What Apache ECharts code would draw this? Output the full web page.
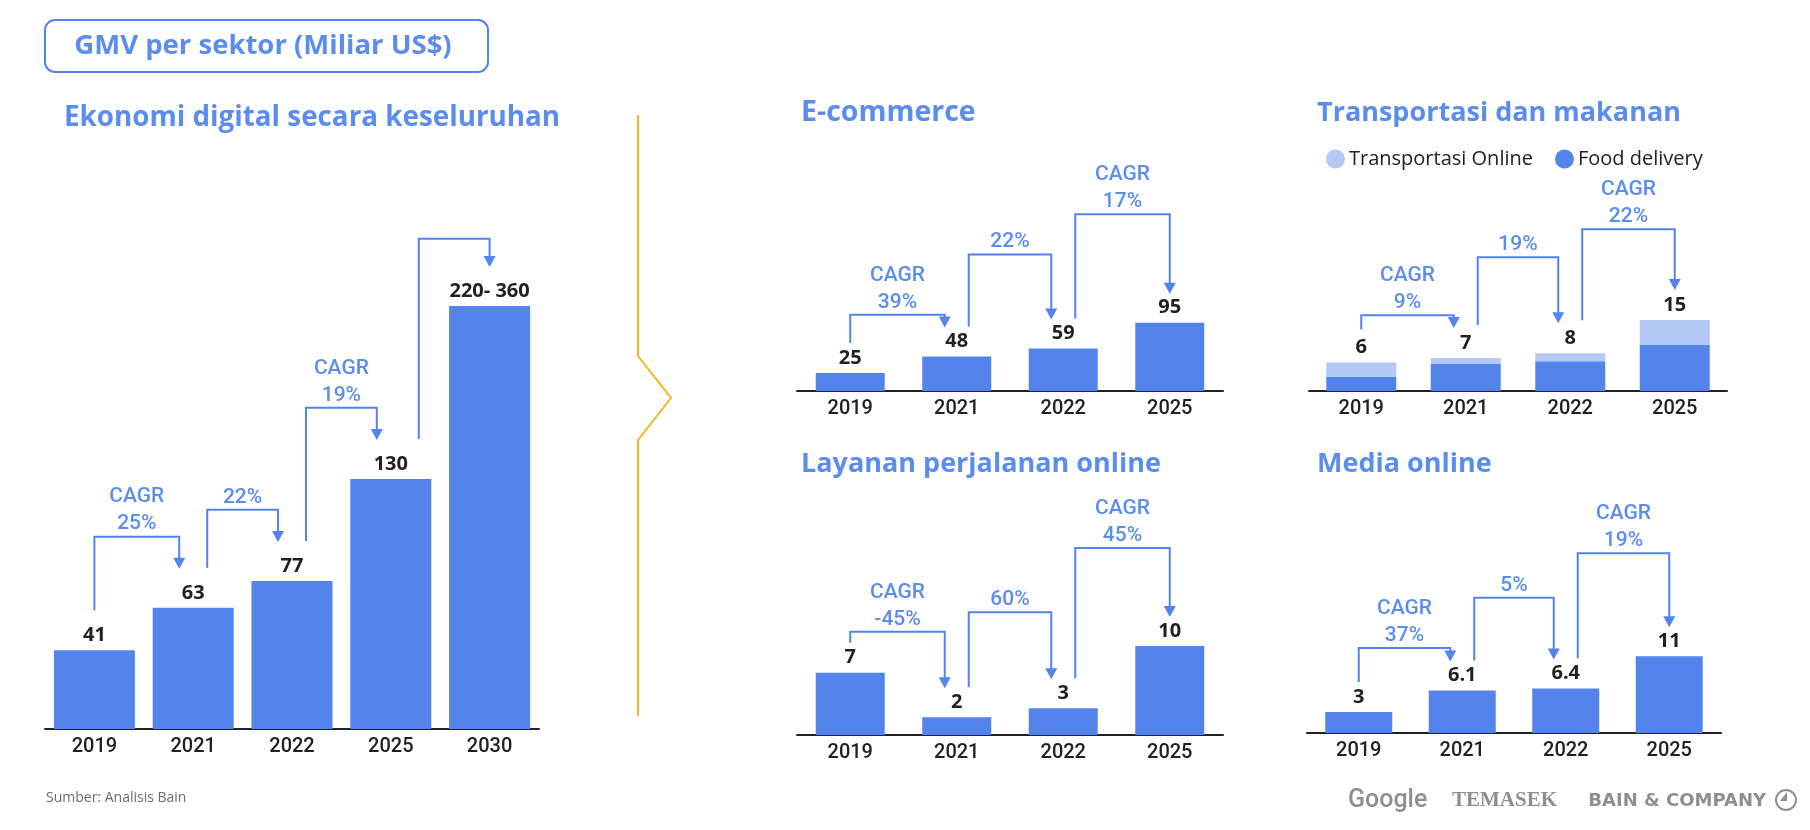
<!DOCTYPE html>
<html>
<head>
<meta charset="utf-8">
<script src="https://cdn.jsdelivr.net/npm/echarts@6/dist/echarts.min.js"></script>
<style>
html,body{margin:0;padding:0;background:#fff;}
#c{width:1810px;height:830px;}
</style>
</head>
<body>
<div id="c"></div>
<script>
// ---------- data ----------
const years5 = ['2019', '2021', '2022', '2025', '2030'];
const years4 = ['2019', '2021', '2022', '2025'];

const overallValues = [41, 63, 77, 130, 220];
const overallLabels = ['41', '63', '77', '130', '220- 360'];
const overallCagr = [[0, 1, 'CAGR\n25%', 100], [1, 2, '22%', 114], [2, 3, 'CAGR\n19%', 167], [3, 4, '', 255]];

const ecomValues = [25, 48, 59, 95];
const ecomCagr = [[0, 1, 'CAGR\n39%', 106], [1, 2, '22%', 190], [2, 3, 'CAGR\n17%', 246]];

const foodValues = [3.0, 5.7, 6.3, 9.7];
const rideValues = [3.0, 1.3, 1.7, 5.3];
const transportTotals = [6, 7, 8, 15];
const transportCagr = [[0, 1, 'CAGR\n9%', 16], [1, 2, '19%', 28.3], [2, 3, 'CAGR\n22%', 34.2]];

const travelValues = [7, 2, 3, 10];
const travelCagr = [[0, 1, 'CAGR\n-45%', 11.6], [1, 2, '60%', 13.8], [2, 3, 'CAGR\n45%', 21]];

const mediaValues = [3, 6.1, 6.4, 11];
const mediaCagr = [[0, 1, 'CAGR\n37%', 12.2], [1, 2, '5%', 19.4], [2, 3, 'CAGR\n19%', 25.8]];

// ---------- style ----------
const BLUE = '#5384EB';
const LIGHT = '#B3C8F4';
const TXT_BLUE = '#5B8DEF';
const DARK = '#202124';
const FONT = '"Open Sans", Roboto, "Noto Sans", Arial, sans-serif';
const FONT_MED = 'Roboto, "Open Sans", Arial, sans-serif';

const chart = echarts.init(document.getElementById('c'), null, {renderer: 'canvas'});

// panel layout: left, width, axis y, y max, px per unit, bar width, bracket gaps
const panels = [
  {left: 45, width: 494, axisY: 729, max: 300, scale: 1.923, barW: 81, startGap: 40, tipGap: 39, off: 14, startOff: {3: 28}},
  {left: 797, width: 426, axisY: 391, max: 350, scale: 0.719, barW: 69, startGap: 30, tipGap: 29, off: 12, startOff: {}},
  {left: 1309, width: 418, axisY: 391, max: 50, scale: 4.73, barW: 70, startGap: 33, tipGap: 30, off: 12, startOff: {}},
  {left: 797, width: 426, axisY: 735, max: 30, scale: 8.9, barW: 69, startGap: 30, tipGap: 29, off: 12, startOff: {}},
  {left: 1307, width: 414, axisY: 733, max: 40, scale: 6.97, barW: 67, startGap: 30, tipGap: 29, off: 12, startOff: {}}
];

const grids = panels.map(p => ({
  left: p.left, width: p.width, top: p.axisY - p.max * p.scale, height: p.max * p.scale
}));

const xAxes = panels.map((p, i) => ({
  type: 'category', gridIndex: i, data: i === 0 ? years5 : years4,
  axisLine: {show: true, lineStyle: {color: DARK, width: 2}},
  axisTick: {show: false},
  axisLabel: {color: DARK, fontSize: 20, fontWeight: 500, fontFamily: FONT_MED, margin: 8}
}));

const yAxes = panels.map((p, i) => ({
  type: 'value', gridIndex: i, min: 0, max: p.max, show: false, splitLine: {show: false}
}));

function barLabel(formatter) {
  return {
    show: true, position: 'top', distance: 5, color: DARK, fontSize: 20,
    fontWeight: 'bold', fontFamily: FONT, formatter: formatter
  };
}

function bracketSeries(idx, cagr, totals) {
  const p = panels[idx];
  const n = totals.length;
  return {
    type: 'custom', xAxisIndex: idx, yAxisIndex: idx, silent: true, z: 5,
    encode: {x: [0, 1], y: [2, 3, 4]},
    data: cagr.map(c => [c[0], c[1], totals[c[0]], totals[c[1]], c[3]]),
    renderItem: function (params, api) {
      const a = api.value(0), b = api.value(1);
      const pA = api.coord([a, api.value(2)]);
      const pB = api.coord([b, api.value(3)]);
      const yL = api.coord([a, api.value(4)])[1];
      const so = p.startOff[params.dataIndex];
      const xA = pA[0] + (so !== undefined ? so : (a === 0 ? 0 : p.off));
      const xB = pB[0] - (b === n - 1 ? 0 : p.off);
      const yS = pA[1] - p.startGap;
      const yT = pB[1] - p.tipGap;
      const ah = 11, aw = 6;
      const text = cagr[params.dataIndex][2];
      const children = [
        {type: 'polyline', shape: {points: [[xA, yS], [xA, yL], [xB, yL], [xB, yT - ah + 1]]},
         style: {stroke: BLUE, lineWidth: 2, fill: null}},
        {type: 'polygon', shape: {points: [[xB - aw, yT - ah], [xB + aw, yT - ah], [xB, yT]]},
         style: {fill: BLUE}}
      ];
      if (text) {
        children.push({type: 'text', style: {
          text: text, x: (xA + xB) / 2, y: yL + 1, align: 'center', verticalAlign: 'bottom',
          fill: TXT_BLUE, fontSize: 21, fontWeight: 500, fontFamily: FONT_MED, lineHeight: 27
        }});
      }
      return {type: 'group', children: children};
    }
  };
}

const series = [
  {type: 'bar', xAxisIndex: 0, yAxisIndex: 0, data: overallValues, barWidth: panels[0].barW,
   itemStyle: {color: BLUE}, label: barLabel(pr => overallLabels[pr.dataIndex])},
  bracketSeries(0, overallCagr, overallValues),

  {type: 'bar', xAxisIndex: 1, yAxisIndex: 1, data: ecomValues, barWidth: panels[1].barW,
   itemStyle: {color: BLUE}, label: barLabel('{c}')},
  bracketSeries(1, ecomCagr, ecomValues),

  {type: 'bar', name: 'Food delivery', stack: 'tf', xAxisIndex: 2, yAxisIndex: 2, data: foodValues,
   barWidth: panels[2].barW, itemStyle: {color: BLUE}},
  {type: 'bar', name: 'Transportasi Online', stack: 'tf', xAxisIndex: 2, yAxisIndex: 2, data: rideValues,
   barWidth: panels[2].barW, itemStyle: {color: LIGHT},
   label: barLabel(pr => String(transportTotals[pr.dataIndex]))},
  bracketSeries(2, transportCagr, transportTotals),

  {type: 'bar', xAxisIndex: 3, yAxisIndex: 3, data: travelValues, barWidth: panels[3].barW,
   itemStyle: {color: BLUE}, label: barLabel('{c}')},
  bracketSeries(3, travelCagr, travelValues),

  {type: 'bar', xAxisIndex: 4, yAxisIndex: 4, data: mediaValues, barWidth: panels[4].barW,
   itemStyle: {color: BLUE}, label: barLabel('{c}')},
  bracketSeries(4, mediaCagr, mediaValues)
];

function titleText(text, x, y, size) {
  return {type: 'text', x: x, y: y, style: {
    text: text, fill: TXT_BLUE, fontSize: size || 27, fontWeight: 'bold', fontFamily: FONT,
    verticalAlign: 'middle'
  }};
}

const graphic = [
  {type: 'rect', x: 45, y: 20, shape: {width: 443, height: 52, r: 10},
   style: {fill: '#fff', stroke: BLUE, lineWidth: 2}},
  {type: 'text', x: 263, y: 46, style: {
    text: 'GMV per sektor (Miliar US$)', fill: TXT_BLUE, fontSize: 27.5, fontWeight: 'bold',
    fontFamily: FONT, align: 'center', verticalAlign: 'middle'}},
  titleText('Ekonomi digital secara keseluruhan', 64, 118, 27.8),
  titleText('E-commerce', 801, 113, 28.5),
  titleText('Transportasi dan makanan', 1317, 113),
  titleText('Layanan perjalanan online', 801, 464),
  titleText('Media online', 1317, 464),
  {type: 'polyline', shape: {points: [[638, 115], [638, 356], [671, 398], [638, 440], [638, 716]]},
   style: {stroke: '#F2B824', lineWidth: 2, fill: null}},
  {type: 'text', x: 46, y: 798, style: {
    text: 'Sumber: Analisis Bain', fill: '#6B6B6B', fontSize: 14, fontFamily: FONT,
    verticalAlign: 'middle'}},
  {type: 'text', x: 1348, y: 801, style: {
    text: 'Google', fill: '#8F8F8F', fontSize: 25, fontWeight: 500, fontFamily: 'Roboto, sans-serif',
    verticalAlign: 'middle'}},
  {type: 'text', x: 1452, y: 801, style: {
    text: 'TEMASEK', fill: '#8F8F8F', fontSize: 21, fontWeight: 'bold',
    fontFamily: '"Liberation Serif", "DejaVu Serif", serif', verticalAlign: 'middle'}},
  {type: 'text', x: 1766, y: 801, style: {
    text: 'BAIN & COMPANY', fill: '#8F8F8F', fontSize: 18, fontWeight: 'bold',
    fontFamily: '"DejaVu Sans", sans-serif', align: 'right', verticalAlign: 'middle'}},
  {type: 'circle', shape: {cx: 1786, cy: 800, r: 10},
   style: {fill: null, stroke: '#8F8F8F', lineWidth: 2}},
  {type: 'polygon', shape: {points: [[1787, 792], [1787, 801], [1780, 801]]},
   style: {fill: '#8F8F8F'}}
];

chart.setOption({
  animation: false,
  backgroundColor: '#fff',
  textStyle: {fontFamily: FONT},
  grid: grids,
  xAxis: xAxes,
  yAxis: yAxes,
  legend: {
    left: 1321, top: 144, itemWidth: 19, itemHeight: 19, itemGap: 22, icon: 'circle',
    data: ['Transportasi Online', 'Food delivery'],
    textStyle: {color: DARK, fontSize: 20, fontFamily: FONT, padding: [0, 0, 0, -1]}
  },
  graphic: graphic,
  series: series
});
</script>
</body>
</html>
